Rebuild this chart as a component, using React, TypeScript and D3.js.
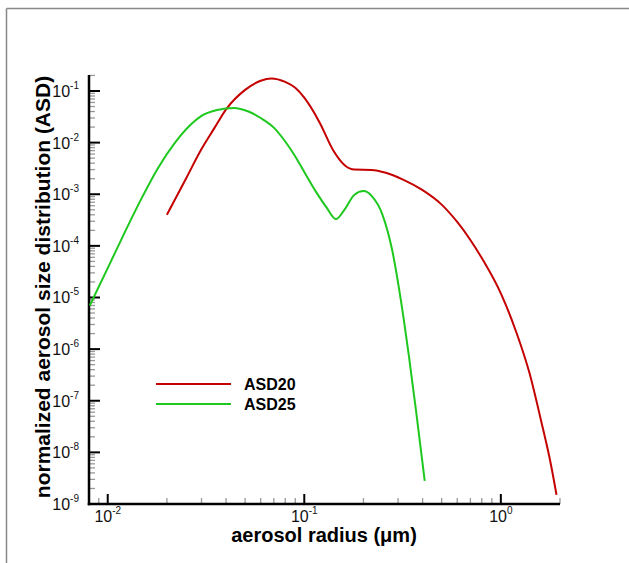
import React from "react";
import * as d3 from "d3";

const radiusASD20 = [0.02, 0.025, 0.03, 0.035, 0.04, 0.05, 0.06, 0.068, 0.08, 0.09, 0.1, 0.12, 0.14, 0.16, 0.18, 0.22, 0.26, 0.32, 0.4, 0.5, 0.6, 0.7, 0.8, 1.0, 1.2, 1.4, 1.6, 1.8, 1.92];
const valuesASD20 = [4.0e-4, 2.0e-3, 7.5e-3, 0.0195, 0.044, 0.105, 0.158, 0.175, 0.15, 0.115, 0.074, 0.024, 7.2e-3, 3.7e-3, 3.0e-3, 2.95e-3, 2.6e-3, 1.9e-3, 1.2e-3, 6.3e-4, 2.9e-4, 1.3e-4, 5.8e-5, 1.2e-5, 2.1e-6, 3.4e-7, 4.2e-8, 5.7e-9, 1.5e-9];

const radiusASD25 = [0.0081, 0.01, 0.012, 0.015, 0.018, 0.022, 0.026, 0.03, 0.036, 0.044, 0.052, 0.06, 0.07, 0.08, 0.09, 0.1, 0.115, 0.13, 0.145, 0.16, 0.18, 0.2, 0.22, 0.25, 0.28, 0.31, 0.34, 0.37, 0.41];
const valuesASD25 = [7e-6, 3.7e-5, 1.6e-4, 8.9e-4, 3.2e-3, 0.01, 0.021, 0.033, 0.043, 0.047, 0.04, 0.03, 0.0195, 0.0105, 5.4e-3, 2.7e-3, 1.1e-3, 5.5e-4, 3.3e-4, 5e-4, 9.8e-4, 1.15e-3, 9.3e-4, 4e-4, 8.3e-5, 8.9e-6, 7.7e-7, 6.6e-8, 2.8e-9];

const seriesNames = ["ASD20", "ASD25"];
const seriesColors = ["#c40000", "#1ec81e"];

const yExponents = [-9, -8, -7, -6, -5, -4, -3, -2, -1];
const xExponents = [-2, -1, 0];

const xDomain = [0.00803, 2.0];
const yDomain = [1e-9, 0.204];

const W = 629;
const H = 563;
const left = 89;
const right = 560;
const top = 75;
const bottom = 504;

export default function App() {
  const x = d3.scaleLog().domain(xDomain).range([left, right]);
  const y = d3.scaleLog().domain(yDomain).range([bottom, top]);

  const line = d3
    .line<[number, number]>()
    .x((d) => x(d[0]))
    .y((d) => y(d[1]))
    .curve(d3.curveMonotoneX);

  const s20: [number, number][] = radiusASD20.map((r, i) => [r, valuesASD20[i]]);
  const s25: [number, number][] = radiusASD25.map((r, i) => [r, valuesASD25[i]]);

  const yMinor: number[] = [];
  for (const e of yExponents) {
    for (let m = 2; m <= 9; m++) {
      const v = m * Math.pow(10, e);
      if (v <= yDomain[1] * 1.0001) yMinor.push(v);
    }
  }
  const xMinor: number[] = [];
  for (let e = -3; e <= 0; e++) {
    for (let m = 2; m <= 9; m++) {
      const v = m * Math.pow(10, e);
      if (v >= xDomain[0] && v <= xDomain[1] * 1.0001) xMinor.push(v);
    }
  }

  const font = "'Liberation Sans', Arial, Helvetica, sans-serif";

  return (
    <svg
      width={W}
      height={H}
      style={{ position: "absolute", left: 0, top: 0, background: "#fff" }}
      fontFamily={font}
    >
      <rect x={0} y={0} width={W} height={H} fill="#fff" />
      {/* frame */}
      <line x1={6.5} y1={8.5} x2={W} y2={8.5} stroke="#888" strokeWidth={1.5} />
      <line x1={6.5} y1={8.5} x2={6.5} y2={H} stroke="#888" strokeWidth={1.5} />

      {/* minor ticks */}
      {yMinor.map((v, i) => (
        <line key={"ym" + i} x1={left} x2={left + 6} y1={y(v)} y2={y(v)} stroke="#999" strokeWidth={1.3} />
      ))}
      {xMinor.map((v, i) => (
        <line key={"xm" + i} x1={x(v)} x2={x(v)} y1={bottom} y2={bottom - 6} stroke="#999" strokeWidth={1.3} />
      ))}

      {/* major ticks */}
      {yExponents.map((e) => (
        <line key={"yM" + e} x1={left} x2={left + 11} y1={y(Math.pow(10, e))} y2={y(Math.pow(10, e))} stroke="#000" strokeWidth={2} />
      ))}
      {xExponents.map((e) => (
        <line key={"xM" + e} x1={x(Math.pow(10, e))} x2={x(Math.pow(10, e))} y1={bottom} y2={bottom - 10} stroke="#000" strokeWidth={2} />
      ))}

      {/* axes */}
      <line x1={left} x2={left} y1={top} y2={bottom + 1.25} stroke="#000" strokeWidth={2.5} />
      <line x1={left - 1.25} x2={right} y1={bottom} y2={bottom} stroke="#000" strokeWidth={2.5} />

      {/* tick labels */}
      {yExponents.map((e) => (
        <text key={"yl" + e} x={79} y={y(Math.pow(10, e)) + 6} textAnchor="end" fontSize={16} fill="#111">
          <tspan>10</tspan>
          <tspan dy={-8} fontSize={10}>{String(e)}</tspan>
        </text>
      ))}
      {xExponents.map((e) => (
        <text key={"xl" + e} x={x(Math.pow(10, e))} y={522} textAnchor="middle" fontSize={16} fill="#111">
          <tspan>10</tspan>
          <tspan dy={-8} fontSize={10}>{String(e)}</tspan>
        </text>
      ))}

      {/* curves */}
      <path d={line(s20) || ""} fill="none" stroke={seriesColors[0]} strokeWidth={2} />
      <path d={line(s25) || ""} fill="none" stroke={seriesColors[1]} strokeWidth={2} />

      {/* legend */}
      {seriesNames.map((n, i) => (
        <g key={n}>
          <line x1={156} x2={231} y1={384 + i * 20} y2={384 + i * 20} stroke={seriesColors[i]} strokeWidth={2} />
          <text x={244} y={390 + i * 20} fontSize={16} fontWeight="bold" fill="#000">
            {n}
          </text>
        </g>
      ))}

      {/* axis titles */}
      <text x={324} y={542} textAnchor="middle" fontSize={20} fontWeight="bold" fill="#000">
        aerosol radius (μm)
      </text>
      <text
        transform="translate(50,287) rotate(-90)"
        textAnchor="middle"
        fontSize={21}
        fontWeight="bold"
        fill="#000"
      >
        normalized aerosol size distribution (ASD)
      </text>
    </svg>
  );
}
